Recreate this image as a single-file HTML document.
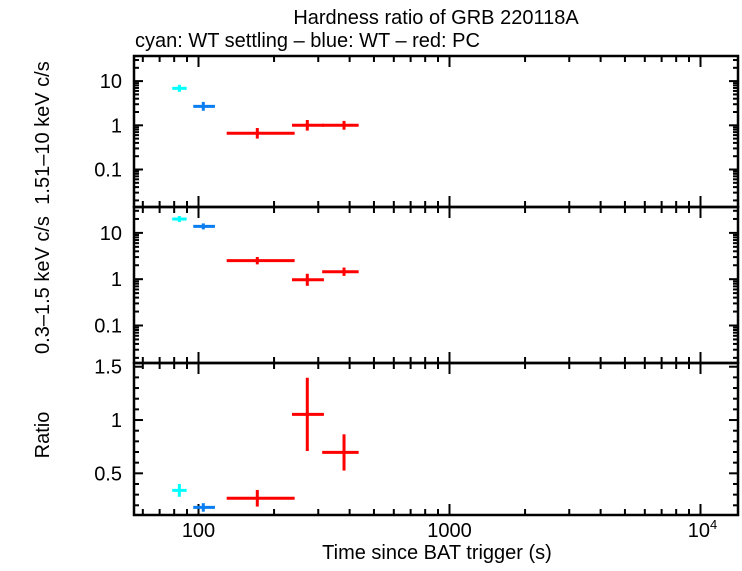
<!DOCTYPE html>
<html><head><meta charset="utf-8"><style>
body{margin:0;background:#fff}
svg text{font-family:"Liberation Sans",sans-serif;font-size:20px;fill:#000}
</style></head><body>
<svg id="c" width="742" height="566" xmlns="http://www.w3.org/2000/svg">
<rect width="742" height="566" fill="#fff"/>
<text x="436" y="24" text-anchor="middle">Hardness ratio of GRB 220118A</text>
<text x="135" y="47">cyan: WT settling – blue: WT – red: PC</text>
<text x="437" y="559" text-anchor="middle">Time since BAT trigger (s)</text>
<text transform="translate(49,133) rotate(-90)" text-anchor="middle">1.51–10 keV c/s</text>
<text transform="translate(49,285) rotate(-90)" text-anchor="middle">0.3–1.5 keV c/s</text>
<text transform="translate(49,435) rotate(-90)" text-anchor="middle">Ratio</text>
</svg>
<script>
const colors=["#00ffff","#0a7ef0","#ff0000","#ff0000","#ff0000"];
const tMid=[83.9,104.5,171.5,271.3,380];
const tLo=[78.6,95.3,129.5,235.8,311];
const tHi=[89.7,116.3,241.6,316,434.6];
const hardVal=[6.87,2.69,0.66,1.0,1.0];
const hardErr=[0.08,0.1,0.12,0.12,0.1];
const softVal=[19.9,13.8,2.51,0.97,1.45];
const softErr=[0.065,0.065,0.08,0.13,0.09];
const ratioVal=[0.34,0.18,0.266,1.053,0.696];
const ratioErr=[0.06,0.04,0.078,0.344,0.17];
const xTickLabels=["100","1000","10"];

const NS="http://www.w3.org/2000/svg";
const svg=document.getElementById('c');
const L=134,R=738;
const xs=v=>198.5+(Math.log10(v)-2)*251;
function el(tag,a){const e=document.createElementNS(NS,tag);for(const k in a)e.setAttribute(k,a[k]);svg.appendChild(e);return e;}
const panels=[
 {top:56,bot:207,log:true,y0:-1.848,y1:1.568,vals:hardVal,errs:hardErr,labels:["0.1","1","10"],name:"hard"},
 {top:207,bot:363,log:true,y0:-1.81,y1:1.559,vals:softVal,errs:softErr,labels:["0.1","1","10"],name:"soft"},
 {top:363,bot:515,log:false,y0:0.109,y1:1.535,vals:ratioVal,errs:ratioErr,labels:["0.5","1","1.5"],name:"ratio"}
];
panels.forEach(p=>{
 const ys=v=>{const t=p.log?Math.log10(v):v;return p.bot-(t-p.y0)/(p.y1-p.y0)*(p.bot-p.top);};
 if(p.log){
  for(let d=-2;d<=1;d++){for(let m=1;m<10;m++){const v=m*Math.pow(10,d);const y=ys(v);if(y<p.top-0.5||y>p.bot+0.5)continue;const len=m==1?9:5;
   const t=el('line',{x1:L,x2:L+len,y1:y,y2:y,stroke:'#000','stroke-width':2});
   
   const t2=el('line',{x1:R,x2:R-len,y1:y,y2:y,stroke:'#000','stroke-width':2});
   
   if(m==1){const lab=p.labels[d+1];const tx=el('text',{x:L-12,y:y+7,'text-anchor':'end'});tx.textContent=lab;
    }}}
 } else {
  for(let i=2;i<=15;i++){const v=i/10;const y=ys(v);if(y<p.top||y>p.bot)continue;const major=(i%5==0);const len=major?9:5;
   const t=el('line',{x1:L,x2:L+len,y1:y,y2:y,stroke:'#000','stroke-width':2});
   
   const t2=el('line',{x1:R,x2:R-len,y1:y,y2:y,stroke:'#000','stroke-width':2});
   
   if(major){const tx=el('text',{x:L-12,y:y+7,'text-anchor':'end'});tx.textContent=p.labels[i/5-1];
    }}
 }
 for(let d=1;d<=4;d++){for(let m=1;m<10;m++){const v=m*Math.pow(10,d);const x=xs(v);if(x<L||x>R)continue;const len=m==1?11:6;
  const a=el('line',{x1:x,x2:x,y1:p.bot,y2:p.bot-len,stroke:'#000','stroke-width':2});
  
  const b=el('line',{x1:x,x2:x,y1:p.top,y2:p.top+len,stroke:'#000','stroke-width':2});
  }}
 p.vals.forEach((v,i)=>{
  const y=ys(v);let ylo,yhi;
  if(p.log){ylo=ys(v/Math.pow(10,p.errs[i]));yhi=ys(v*Math.pow(10,p.errs[i]));}else{ylo=ys(v-p.errs[i]);yhi=ys(v+p.errs[i]);}
  const h=el('line',{x1:xs(tLo[i]),x2:xs(tHi[i]),y1:y,y2:y,stroke:colors[i],'stroke-width':3});
  
  const vline=el('line',{x1:xs(tMid[i]),x2:xs(tMid[i]),y1:ylo,y2:yhi,stroke:colors[i],'stroke-width':3});
  
 });
 const fr=el('rect',{x:L,y:p.top,width:R-L,height:p.bot-p.top,fill:'none',stroke:'#000','stroke-width':2.5});
 
});
[100,1000].forEach((v,i)=>{const t=el('text',{x:xs(v),y:537,'text-anchor':'middle'});t.textContent=xTickLabels[i];
 });
const t4=el('text',{x:xs(10000)+2,y:537,'text-anchor':'middle'});


t4.innerHTML=xTickLabels[2]+'<tspan dy="-8" font-size="13">4</tspan>';
</script>
</body></html>
